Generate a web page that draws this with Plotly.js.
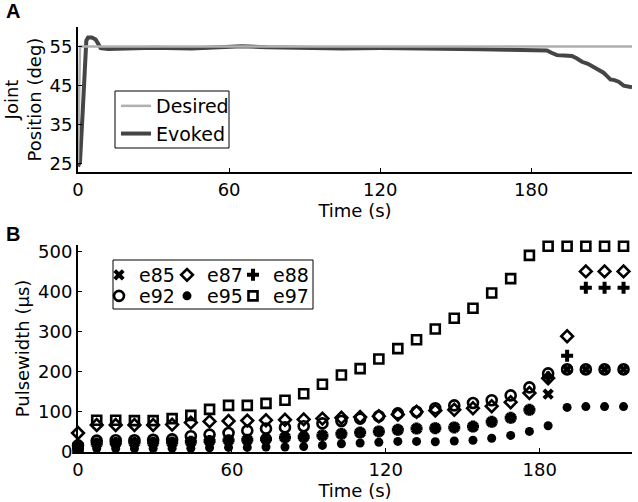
<!DOCTYPE html>
<html>
<head>
<meta charset="utf-8">
<script src="https://cdn.plot.ly/plotly-3.0.1.min.js"></script>
<style>html,body{margin:0;padding:0;background:#fff;}</style>
</head>
<body>
<div id="chart" style="width:638px;height:502px;"></div>
<script>
// ---- Panel A data ----
const desiredT = [0, 0.8, 220];
const desiredV = [25, 55, 55];
const evokedT = [0, 0.8, 2, 3.3, 4, 5.5, 7, 8, 9, 12, 20, 30, 45, 60, 65, 75, 90, 105, 120, 135, 150, 160, 170, 180, 184, 186.2, 188, 190.2, 193, 196.1, 198, 200.1, 202.5, 204.7, 206.5, 208.7, 210, 211.4, 213, 214.7, 216.7, 218.5, 220];
const evokedV = [24.3, 25.5, 40, 56.5, 57.3, 57.3, 56.8, 55.5, 54.6, 54.4, 54.6, 54.7, 54.5, 54.8, 55.1, 54.8, 54.6, 54.5, 54.6, 54.5, 54.6, 54.3, 54.2, 54.1, 54.1, 54.0, 53.4, 52.8, 52.7, 52.6, 52.0, 51.1, 50.6, 49.8, 49.2, 48.3, 47.5, 46.6, 46.4, 46.0, 45.0, 44.8, 44.6];

// ---- Panel B data ----
const timesB = [0, 7.3, 14.7, 22, 29.3, 36.7, 44, 51.3, 58.7, 66, 73.3, 80.7, 88, 95.3, 102.7, 110, 117.3, 124.7, 132, 139.3, 146.7, 154, 161.3, 168.7, 176, 183.3, 190.7, 198, 205.3, 212.7];
const e85 = [10, 20, 21, 22, 22, 22, 24, 26, 28, 29, 31, 35, 36, 40, 44, 47, 50, 54, 57, 58, 60, 62, 74, 84, 104, 143, 205, 205, 205, 205];
const e87 = [46, 66, 66, 66, 66, 67, 72, 75, 76, 77, 78, 79, 80, 82, 84, 86, 88, 92, 99, 102, 104, 108, 113, 123, 146, 183, 288, 450, 450, 450];
const e88 = [10, 20, 21, 22, 22, 22, 24, 26, 28, 29, 31, 35, 36, 40, 44, 47, 50, 54, 57, 58, 60, 62, 74, 84, 104, 185, 239, 409, 409, 409];
const e92 = [15, 27, 28, 28, 29, 30, 38, 42, 46, 52, 57, 60, 63, 70, 76, 82, 88, 95, 99, 108, 115, 121, 128, 140, 160, 195, 205, 205, 205, 205];
const e95 = [5, 7, 7, 7, 7, 8, 8, 9, 10, 10, 11, 11, 12, 15, 19, 21, 23, 25, 25, 24, 26, 28, 33, 40, 50, 64, 110, 112, 112, 112];
const e97 = [8, 78, 78, 77, 77, 82, 90, 105, 115, 115, 120, 128, 144, 168, 191, 207, 231, 257, 279, 306, 333, 358, 396, 432, 490, 513, 513, 513, 513, 513];

const xTicksA = [0, 60, 120, 180];
const yTicksA = [25, 35, 45, 55];
const xTicksB = [0, 60, 120, 180];
const yTicksB = [0, 100, 200, 300, 400, 500];

const FONT = 'DejaVu Sans, sans-serif';

function mk(name, y, symbol, size, filled, legend) {
  return {
    type: 'scatter', mode: 'markers', name: name,
    x: timesB, y: y, xaxis: 'x2', yaxis: 'y2', legend: legend,
    cliponaxis: false,
    marker: filled ? {symbol: symbol, size: size, color: '#000', line: {width: 0}}
                   : {symbol: symbol, size: size, color: '#000', line: {width: 2.6, color: '#000'}}
  };
}

const traces = [
  {type: 'scatter', mode: 'lines', name: 'Evoked', x: evokedT, y: evokedV, xaxis: 'x', yaxis: 'y',
   legend: 'legend7', legendrank: 2, line: {color: '#454545', width: 4}},
  {type: 'scatter', mode: 'lines', name: 'Desired', x: desiredT, y: desiredV, xaxis: 'x', yaxis: 'y',
   legend: 'legend7', legendrank: 1, line: {color: '#b0b0b0', width: 2.5}},
  mk('e85', e85, 'x', 10, true, 'legend'),
  mk('e87', e87, 'diamond-open', 9, false, 'legend2'),
  mk('e88', e88, 'cross', 10, true, 'legend3'),
  mk('e92', e92, 'circle-open', 10, false, 'legend4'),
  mk('e95', e95, 'circle', 9, true, 'legend5'),
  mk('e97', e97, 'square-open', 9, false, 'legend6')
];

const W = 554, H = 425, L = 78, T = 27;
const px = v => (v - L) / W;
const py = v => (T + H - v) / H;

const axisCommon = {
  showline: true, linewidth: 2, linecolor: '#000', mirror: false,
  ticks: 'inside', ticklen: 4, tickwidth: 1, tickcolor: '#000',
  showgrid: false, zeroline: false,
  tickfont: {family: FONT, size: 18, color: '#000'}
};

function leg(xPix, yPix, orient) {
  return {
    bgcolor: 'rgba(0,0,0,0)', borderwidth: 0,
    font: {family: FONT, size: 19, color: '#000'},
    xanchor: 'left', yanchor: 'middle', orientation: orient || 'h',
    x: px(xPix), y: py(yPix)
  };
}

const layout = {
  width: 638, height: 502,
  margin: {l: L, r: 6, t: T, b: 50, pad: 0},
  paper_bgcolor: '#fff', plot_bgcolor: '#fff',
  font: {family: FONT, size: 18, color: '#000'},
  showlegend: true,
  xaxis: Object.assign({}, axisCommon, {domain: [0, 1], anchor: 'y', range: [0, 220], tickvals: xTicksA,
    title: {text: 'Time (s)', font: {family: FONT, size: 18}, standoff: 1}}),
  yaxis: Object.assign({}, axisCommon, {domain: [0.6588, 1], anchor: 'x', range: [22.9, 60], tickvals: yTicksA,
    title: {text: 'Joint<br>Position (deg)', font: {family: FONT, size: 18}, standoff: 3}}),
  xaxis2: Object.assign({}, axisCommon, {domain: [0, 1], anchor: 'y2', range: [0, 216], tickvals: xTicksB,
    title: {text: 'Time (s)', font: {family: FONT, size: 18}, standoff: 2}}),
  yaxis2: Object.assign({}, axisCommon, {domain: [0, 0.487], anchor: 'x2', range: [-1.5, 516], tickvals: yTicksB,
    title: {text: 'Pulsewidth (µs)', font: {family: FONT, size: 18}, standoff: 4}}),
  legend:  leg(99, 275),
  legend2: leg(167, 275),
  legend3: leg(233, 275),
  legend4: leg(99, 296),
  legend5: leg(167, 296),
  legend6: leg(233, 296),
  legend7: Object.assign(leg(116, 120, 'v'), {traceorder: 'normal'}),
  shapes: [
    {type: 'rect', xref: 'paper', yref: 'paper', x0: px(113), x1: px(313), y0: py(309), y1: py(260),
     line: {color: '#000', width: 1}, fillcolor: 'rgba(0,0,0,0)'},
    {type: 'rect', xref: 'paper', yref: 'paper', x0: px(115), x1: px(229), y0: py(148), y1: py(91),
     line: {color: '#000', width: 1}, fillcolor: 'rgba(0,0,0,0)'}
  ],
  annotations: [
    {text: '<b>A</b>', xref: 'paper', yref: 'paper', x: px(13), y: py(11), showarrow: false,
     font: {family: 'Liberation Sans, Arial, sans-serif', size: 20, color: '#000'}, xanchor: 'center', yanchor: 'middle'},
    {text: '<b>B</b>', xref: 'paper', yref: 'paper', x: px(13), y: py(234), showarrow: false,
     font: {family: 'Liberation Sans, Arial, sans-serif', size: 20, color: '#000'}, xanchor: 'center', yanchor: 'middle'}
  ]
};

Plotly.newPlot('chart', traces, layout, {displayModeBar: false, staticPlot: true});
</script>
</body>
</html>
